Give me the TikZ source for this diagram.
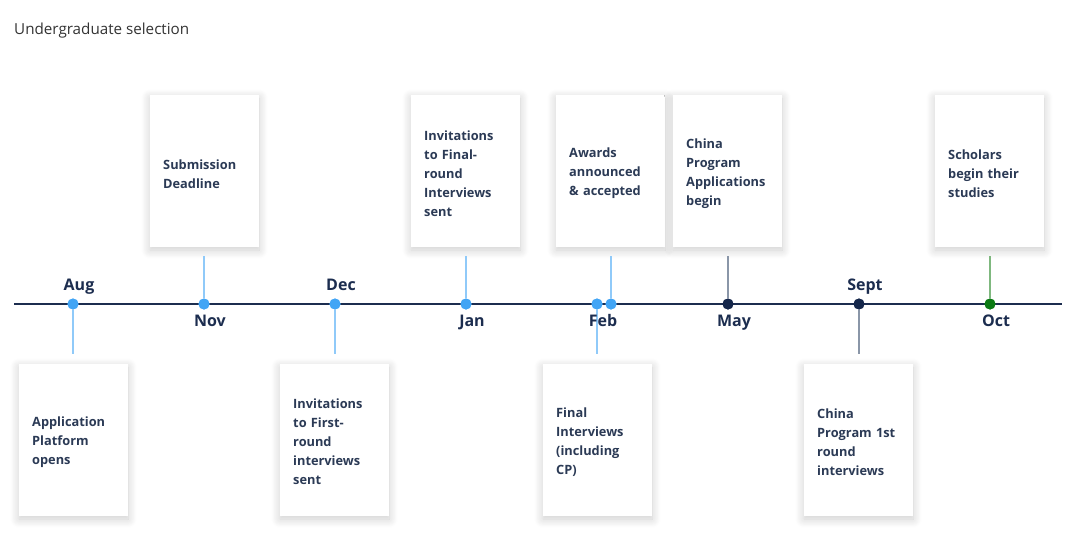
\documentclass[tikz,border=0pt]{standalone}
\usepackage{fontspec}
\setmainfont{Open Sans}
\usetikzlibrary{shadows.blur}
\definecolor{navy}{HTML}{1C2D4F}
\definecolor{boxtext}{HTML}{2B3A55}
\definecolor{dotblue}{HTML}{42A5F5}
\definecolor{lineblue}{HTML}{90CAF9}
\definecolor{dotnavy}{HTML}{14264A}
\definecolor{linegray}{HTML}{8A96A8}
\definecolor{dotgreen}{HTML}{0B7A14}
\definecolor{linegreen}{HTML}{7FB87F}
\definecolor{titlegray}{HTML}{333333}
\tikzset{
  card/.style={fill=white, minimum width=109pt, minimum height=152pt, inner sep=0pt,
    blur shadow={shadow xshift=0pt, shadow yshift=-3pt, shadow blur radius=9pt, shadow opacity=20, shadow blur steps=12}},
  cardtext/.style={text=boxtext, align=left, font=\fontsize{12.8}{19}\selectfont\bfseries, inner sep=0pt, text width=90pt},
  bdot/.style={circle, fill=dotblue, minimum size=11pt, inner sep=0pt},
  ndot/.style={circle, fill=dotnavy, minimum size=11pt, inner sep=0pt},
  gdot/.style={circle, fill=dotgreen, minimum size=11pt, inner sep=0pt},
  month/.style={text=navy, font=\fontsize{16}{18}\selectfont\bfseries, inner sep=0pt, anchor=base},
  bconn/.style={draw=lineblue, line width=1.3pt},
  nconn/.style={draw=linegray, line width=1.3pt},
  gconn/.style={draw=linegreen, line width=1.3pt},
}
\begin{document}
\begin{tikzpicture}[x=1pt,y=-1pt]
\useasboundingbox (0,0) rectangle (1080,538);
\node[anchor=west, text=titlegray, font=\fontsize{15.2}{17}\selectfont, inner sep=0pt] (title) at (14,31) {Undergraduate selection};

% axis
\coordinate (axL) at (14,304);
\coordinate (axR) at (1062,304);
\draw[navy, line width=1.5pt] (axL) -- (axR);

% cards
\node[card] (c1) at (73.5,440) {};
\node[cardtext, anchor=west] (t1) at (32,442) {Application\\Platform\\opens};
\node[card] (c2) at (204.5,171) {};
\node[cardtext, anchor=west] (t2) at (163,174) {Submission\\Deadline};
\node[card] (c3) at (334.5,440) {};
\node[cardtext, anchor=west] (t3) at (293,442) {Invitations\\to First-\\round\\interviews\\sent};
\node[card] (c4) at (465.5,171) {};
\node[cardtext, anchor=west] (t4) at (424,173.5) {Invitations\\to Final-\\round\\Interviews\\sent};
\node[card] (c5) at (610.5,171) {};
\node[cardtext, anchor=west] (t5) at (569,173.5) {Awards\\announced\\\&~accepted};
\node[card] (c6) at (597.5,440) {};
\node[cardtext, anchor=west] (t6) at (556,442) {Final\\Interviews\\(including\\CP)};
\node[card] (c7) at (727.5,171) {};
\node[cardtext, anchor=west] (t7) at (686,173.5) {China\\Program\\Applications\\begin};
\node[card] (c8) at (858.5,440) {};
\node[cardtext, anchor=west] (t8) at (817,442) {China\\Program 1st\\round\\interviews};
\node[card] (c9) at (989.5,171) {};
\node[cardtext, anchor=west] (t9) at (948,173.5) {Scholars\\begin their\\studies};

% dots
\node[bdot] (d1) at (73,304) {};
\node[bdot] (d2) at (204,304) {};
\node[bdot] (d3) at (335,304) {};
\node[bdot] (d4) at (466,304) {};
\node[bdot] (d6) at (597,304) {};
\node[bdot] (d5) at (611,304) {};
\node[ndot] (d7) at (728,304) {};
\node[ndot] (d8) at (859,304) {};
\node[gdot] (d9) at (990,304) {};

% connectors
\draw[bconn] (d1) -- ([yshift=10pt]c1.north -| d1);
\draw[bconn] (d2) -- ([yshift=-9pt]c2.south -| d2);
\draw[bconn] (d3) -- ([yshift=10pt]c3.north -| d3);
\draw[bconn] (d4) -- ([yshift=-9pt]c4.south -| d4);
\draw[bconn] (d5) -- ([yshift=-9pt]c5.south -| d5);
\draw[bconn] (d6) -- ([yshift=10pt]c6.north -| d6);
\draw[nconn] (d7) -- ([yshift=-9pt]c7.south -| d7);
\draw[nconn] (d8) -- ([yshift=10pt]c8.north -| d8);
\draw[gconn] (d9) -- ([yshift=-9pt]c9.south -| d9);
% redraw dots on top
\node[bdot] at (d1) {};
\node[bdot] at (d2) {};
\node[bdot] at (d3) {};
\node[bdot] at (d4) {};
\node[bdot] at (d6) {};
\node[bdot] at (d5) {};
\node[ndot] at (d7) {};
\node[ndot] at (d8) {};
\node[gdot] at (d9) {};

% months
\node[month] (m1) at (79,290.5) {Aug};
\node[month] (m2) at (210,326.5) {Nov};
\node[month] (m3) at (341,290.5) {Dec};
\node[month] (m4) at (472,326.5) {Jan};
\node[month] (m5) at (603,326.5) {Feb};
\node[month] (m7) at (734,326.5) {May};
\node[month] (m8) at (865,290.5) {Sept};
\node[month] (m9) at (996,326.5) {Oct};
\end{tikzpicture}
\end{document}
